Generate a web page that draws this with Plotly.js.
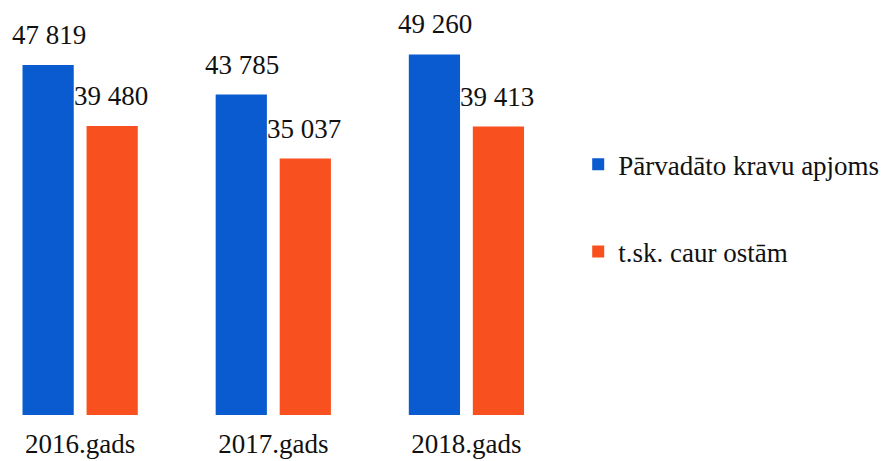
<!DOCTYPE html>
<html><head><meta charset="utf-8">
<script src="https://cdn.plot.ly/plotly-3.0.1.min.js"></script>
<style>html,body{margin:0;padding:0;background:#fff}#chart{width:892px;height:461px}</style>
</head><body><div id="chart"></div>
<script>
const categories = ['2016.gads', '2017.gads', '2018.gads'];
const totalVolume = [47819, 43785, 49260];
const viaPorts = [39480, 35037, 39413];
const seriesNames = ['Pārvadāto kravu apjoms', 't.sk. caur ostām'];
const labels1 = ['47 819', '43 785', '49 260'];
const labels2 = ['39 480', '35 037', '39 413'];

const font = {family: 'Liberation Serif, Times New Roman, DejaVu Serif, serif', size: 27, color: '#111'};
const traces = [
  {type: 'bar', x: categories, y: totalVolume, name: seriesNames[0], marker: {color: '#0a5ad0'}, legendgroup: 'a', hoverinfo: 'skip'},
  {type: 'bar', x: categories, y: viaPorts, name: seriesNames[1], marker: {color: '#f8501e'}, legendgroup: 'b', hoverinfo: 'skip'}
];
const annotations = [];
categories.forEach((c, i) => {
  annotations.push({x: c, y: totalVolume[i], text: labels1[i], showarrow: false, xref: 'x', yref: 'y', yanchor: 'bottom', xshift: -31, yshift: 13, font: font});
  annotations.push({x: c, y: viaPorts[i], text: labels2[i], showarrow: false, xref: 'x', yref: 'y', yanchor: 'bottom', xshift: 31, yshift: 13, font: font});
});
const layout = {
  width: 892, height: 461,
  margin: {l: 0, r: 329, t: 0, b: 46},
  paper_bgcolor: '#fff', plot_bgcolor: '#fff',
  font: font,
  barmode: 'group', bargap: 0.337, bargroupgap: 0.2,
  xaxis: {type: 'category', range: [-0.415, 2.5], showgrid: false, zeroline: false, showline: false, ticks: '', ticklabelstandoff: 10, tickfont: font},
  yaxis: {range: [0, 56700], visible: false, showgrid: false, zeroline: false},
  showlegend: true,
  legend: {x: 1.027, xanchor: 'left', y: 0.662, yanchor: 'top', traceorder: 'grouped', tracegroupgap: 49, font: font, itemwidth: 30, bgcolor: 'rgba(0,0,0,0)'},
  annotations: annotations
};
Plotly.newPlot('chart', traces, layout, {displayModeBar: false, staticPlot: true});
</script></body></html>
